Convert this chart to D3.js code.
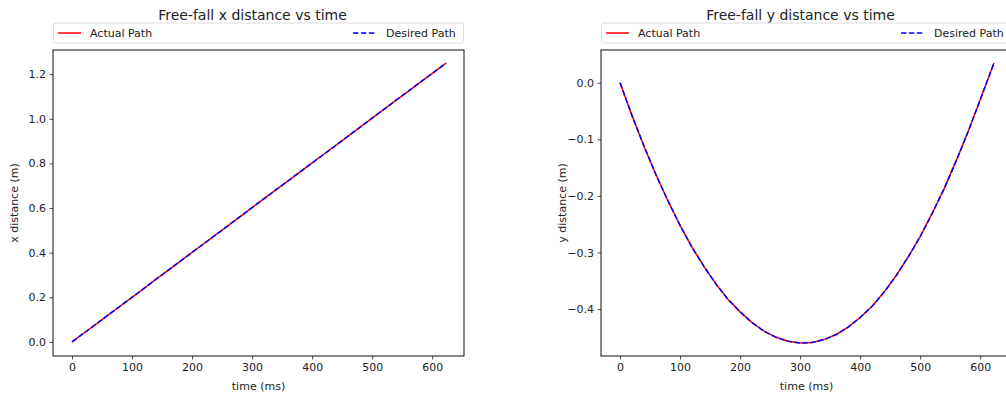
<!DOCTYPE html>
<html><head><meta charset="utf-8">
<script src="https://cdn.jsdelivr.net/npm/d3@7"></script>
<style>body{margin:0;background:#fff;}svg{display:block;font-family:"DejaVu Sans",sans-serif;}</style>
</head><body>
<svg id="c" width="1006" height="394"></svg>
<script>
const times = [0,20,40,60,80,100,120,140,160,180,200,220,240,260,280,300,320,340,360,380,400,420,440,460,480,500,520,540,560,580,600,623];
const xActual = [0,0.040,0.080,0.120,0.160,0.200,0.240,0.281,0.321,0.361,0.401,0.441,0.481,0.521,0.561,0.602,0.642,0.682,0.722,0.762,0.802,0.842,0.882,0.922,0.962,1.003,1.043,1.083,1.123,1.163,1.203,1.249];
const xDesired = [0,0.040,0.080,0.120,0.160,0.200,0.240,0.281,0.321,0.361,0.401,0.441,0.481,0.521,0.561,0.602,0.642,0.682,0.722,0.762,0.802,0.842,0.882,0.922,0.962,1.003,1.043,1.083,1.123,1.163,1.203,1.249];
const yActual = [0,-0.058,-0.112,-0.163,-0.209,-0.252,-0.291,-0.325,-0.356,-0.383,-0.405,-0.424,-0.439,-0.450,-0.457,-0.460,-0.459,-0.454,-0.445,-0.432,-0.415,-0.395,-0.370,-0.341,-0.308,-0.272,-0.231,-0.187,-0.138,-0.086,-0.030,0.035];
const yDesired = [0,-0.058,-0.112,-0.163,-0.209,-0.252,-0.291,-0.325,-0.356,-0.383,-0.405,-0.424,-0.439,-0.450,-0.457,-0.460,-0.459,-0.454,-0.445,-0.432,-0.415,-0.395,-0.370,-0.341,-0.308,-0.272,-0.231,-0.187,-0.138,-0.086,-0.030,0.035];
const timeTicks = [0,100,200,300,400,500,600];
const xTicks = [0,0.2,0.4,0.6,0.8,1.0,1.2];
const yTicks = [0,-0.1,-0.2,-0.3,-0.4];
const titles = ["Free-fall x distance vs time","Free-fall y distance vs time"];
const yLabels = ["x distance (m)","y distance (m)"];
const xLabel = "time (ms)";
const legendLabels = ["Actual Path","Desired Path"];

const svg = d3.select("#c");
const fmt = v => d3.format(".1f")(v).replace("-","\u2212");
const FS = 11;

function panel(opts){
  const {left,width,top,height,ydom,yt,actual,desired,title,ylabel} = opts;
  const g = svg.append("g");
  const x = d3.scaleLinear().domain([-31.7,653]).range([left,left+width]);
  const y = d3.scaleLinear().domain(ydom).range([top+height,top]);
  const xa = g.append("g").attr("transform",`translate(0,${top+height})`)
    .call(d3.axisBottom(x).tickValues(timeTicks).tickSize(3.5).tickPadding(3.5).tickFormat(d3.format("d")));
  const ya = g.append("g").attr("transform",`translate(${left},0)`)
    .call(d3.axisLeft(y).tickValues(yt).tickSize(3.5).tickPadding(3.5).tickFormat(fmt));
  [xa,ya].forEach(a=>{a.select(".domain").remove();a.selectAll("text").attr("font-size",FS).attr("fill","#222").attr("font-family","DejaVu Sans");a.selectAll("line").attr("stroke","#222").attr("stroke-width",0.8);});
  const line = d3.line().x((d,i)=>x(times[i])).y(d=>y(d));
  g.append("path").datum(actual).attr("d",line).attr("fill","none").attr("stroke","#ff0000").attr("stroke-width",1.5);
  g.append("path").datum(desired).attr("d",line).attr("fill","none").attr("stroke","#0000ff").attr("stroke-width",1.5).attr("stroke-dasharray","5.5,2.4");
  g.append("rect").attr("x",left).attr("y",top).attr("width",width).attr("height",height).attr("fill","none").attr("stroke","#111").attr("stroke-width",1);
  g.append("text").attr("x",left+width/2-6).attr("y",top-30).attr("text-anchor","middle").attr("font-size",14).attr("fill","#222").text(title);
  g.append("text").attr("x",left+width/2).attr("y",top+height+34).attr("text-anchor","middle").attr("font-size",FS).attr("fill","#222").text(xLabel);
  g.append("text").attr("transform",`translate(${left-35},${top+height/2}) rotate(-90)`).attr("text-anchor","middle").attr("font-size",FS).attr("fill","#222").text(ylabel);
  const ly = top-27;
  g.append("rect").attr("x",left+0.5).attr("y",ly).attr("width",width-1).attr("height",20).attr("rx",2.5).attr("fill","#fff").attr("stroke","#dcdcdc").attr("stroke-width",1);
  const cy = ly+10;
  g.append("line").attr("x1",left+5).attr("x2",left+28).attr("y1",cy).attr("y2",cy).attr("stroke","#ff0000").attr("stroke-width",1.5);
  g.append("text").attr("x",left+37).attr("y",cy+4).attr("font-size",FS).attr("fill","#222").text(legendLabels[0]);
  const rx = left+width-111;
  g.append("line").attr("x1",rx).attr("x2",rx+23).attr("y1",cy).attr("y2",cy).attr("stroke","#0000ff").attr("stroke-width",1.5).attr("stroke-dasharray","5.5,2.4");
  g.append("text").attr("x",rx+33).attr("y",cy+4).attr("font-size",FS).attr("fill","#222").text(legendLabels[1]);
}

panel({left:53,width:411,top:50,height:306,ydom:[-0.063,1.308],yt:xTicks,actual:xActual,desired:xDesired,title:titles[0],ylabel:yLabels[0]});
panel({left:601,width:411,top:50,height:306,ydom:[-0.483,0.058],yt:yTicks,actual:yActual,desired:yDesired,title:titles[1],ylabel:yLabels[1]});
</script>
</body></html>
